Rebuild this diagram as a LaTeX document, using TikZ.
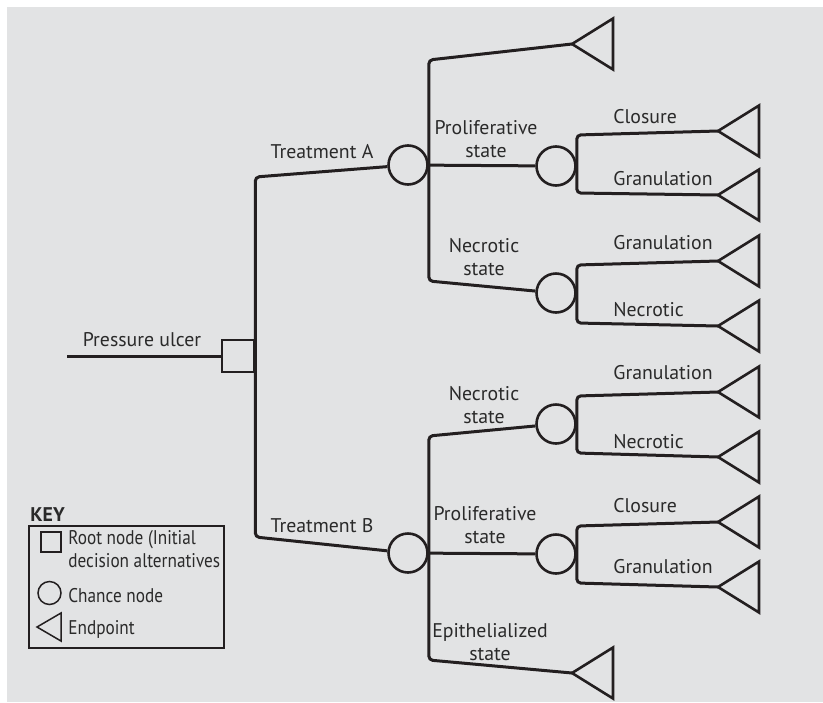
\documentclass[tikz,border=0pt]{standalone}
\usepackage{fontspec}
\setmainfont{PT Sans}
\newfontfamily\keyfont[FakeStretch=0.87]{PT Sans}
\usetikzlibrary{positioning,calc}

\definecolor{bggray}{HTML}{E2E3E4}
\definecolor{inkline}{HTML}{231F20}
\definecolor{inktext}{HTML}{2A2A2A}

% endpoint triangle, tip at the named coordinate
\newcommand{\tipTri}[2]{%
  \coordinate (#1) at (#2);
  \draw[tri] (#1) -- ++(41,-25.5) -- ++(0,51) -- cycle;}

\begin{document}
\begin{tikzpicture}[x=0.5pt,y=-0.5pt,
  every node/.style={text=inktext, font=\fontsize{9.9}{11.5}\selectfont},
  branch/.style={draw=inkline, line width=1.5pt, rounded corners=2pt},
  chance/.style={circle, draw=inkline, line width=1.3pt, minimum size=19.5pt, inner sep=0pt},
  decision/.style={rectangle, draw=inkline, line width=1.3pt, minimum size=16pt, inner sep=0pt},
  tri/.style={draw=inkline, line width=1.3pt, line join=miter},
  lbl/.style={anchor=base, align=center, inner sep=0pt},
  outcome/.style={anchor=base west, align=left, inner sep=0pt},
  keytext/.style={outcome, font=\keyfont\fontsize{9.9}{11.5}\selectfont},
  keyline/.style={draw=inkline, line width=0.75pt}]

  \fill[bggray] (7,7) rectangle (823,702);
  \useasboundingbox (0,0) rectangle (823,702);

  % root decision
  \node[decision] (root) at (238,356) {};
  \coordinate (stem) at (67,356);
  \draw[branch] (stem) -- (root);
  \node[lbl] (ulcer) at (142,346) {Pressure ulcer};

  % treatments
  \node[chance] (trtA) at (408,165) {};
  \node[chance] (trtB) at (408,553) {};
  \draw[branch] (trtA) -- (root.east |- 0,177) -- (root.east |- 0,537) -- (trtB);
  \node[lbl] (lblA) at (322,158) {Treatment A};
  \node[lbl] (lblB) at (322,532) {Treatment B};

  % treatment A
  \node[chance] (proA) at (556,166) {};
  \node[chance] (necA) at (556,293) {};
  \tipTri{endA}{572,44}
  \draw[branch] (endA) -- (trtA.east |- 0,60) -- (trtA.east |- 0,281) -- (necA);
  \draw[branch] (trtA) -- (proA);
  \node[lbl] (proAtxt) at (486,157) {Proliferative\\state};
  \node[lbl] (necAtxt) at (484,275) {Necrotic\\state};

  \tipTri{cloA}{718,131}
  \tipTri{graA}{718,195}
  \draw[branch] (cloA) -- (proA.east |- 0,135) -- (proA.east |- 0,193) -- (graA);
  \node[outcome] (cloAtxt) at (613,123) {Closure};
  \node[outcome] (graAtxt) at (613,185) {Granulation};

  \tipTri{graA2}{718,261}
  \tipTri{necA2}{718,326}
  \draw[branch] (graA2) -- (necA.east |- 0,265) -- (necA.east |- 0,323) -- (necA2);
  \node[outcome] (graA2txt) at (613,249) {Granulation};
  \node[outcome] (necA2txt) at (613,316) {Necrotic};

  % treatment B
  \node[chance] (necB) at (556,424) {};
  \node[chance] (proB) at (556,554) {};
  \tipTri{epiB}{572,673}
  \draw[branch] (necB) -- (trtB.east |- 0,436) -- (trtB.east |- 0,660) -- (epiB);
  \draw[branch] (trtB) -- (proB);
  \node[lbl] (necBtxt) at (484,423) {Necrotic\\state};
  \node[lbl] (proBtxt) at (485,543) {Proliferative\\state};
  \node[lbl] (epiBtxt) at (490,660) {Epithelialized\\state};

  \tipTri{graB}{718,392}
  \tipTri{necB2}{718,457}
  \draw[branch] (graB) -- (necB.east |- 0,396) -- (necB.east |- 0,453) -- (necB2);
  \node[outcome] (graBtxt) at (613,379) {Granulation};
  \node[outcome] (necB2txt) at (613,448) {Necrotic};

  \tipTri{cloB}{718,522}
  \tipTri{graB2}{718,587}
  \draw[branch] (cloB) -- (proB.east |- 0,526) -- (proB.east |- 0,583) -- (graB2);
  \node[outcome] (cloBtxt) at (613,512) {Closure};
  \node[outcome] (graB2txt) at (613,573) {Granulation};

  % key
  \draw[keyline] (29,526) rectangle (224,648);
  \node[outcome, font=\fontsize{9.9}{11.5}\selectfont\bfseries] (keyhead) at (30,521) {KEY};
  \node[decision, line width=0.75pt, minimum size=10pt] (keyroot) at (51,542) {};
  \node[chance, line width=0.75pt, minimum size=11.5pt] (keychance) at (49.5,593) {};
  \coordinate (keyend) at (37,627);
  \draw[keyline] (keyend) -- ++(24,-14) -- ++(0,28) -- cycle;
  \node[keytext] (keyroottxt) at (68,567) {Root node (Initial\\decision alternatives};
  \node[keytext] (keychancetxt) at (68,602) {Chance node};
  \node[keytext] (keyendtxt) at (68,634) {Endpoint};
\end{tikzpicture}
\end{document}
